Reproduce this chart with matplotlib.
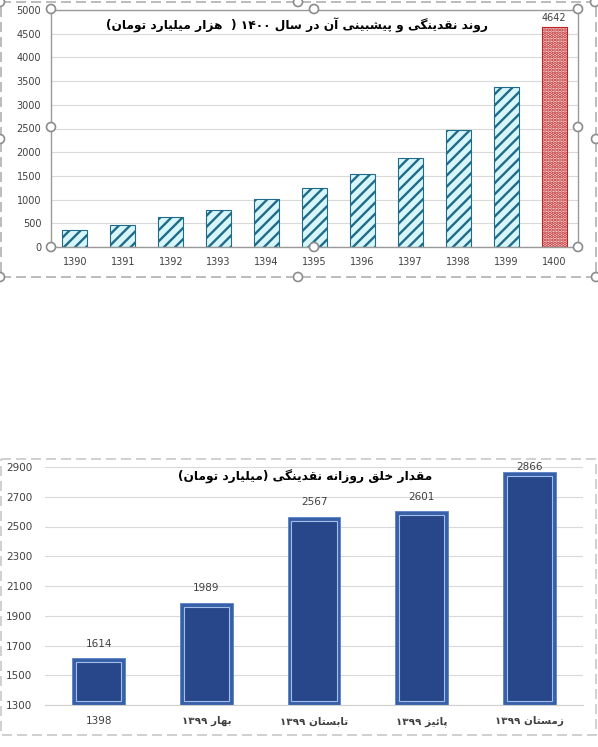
import re
import matplotlib
matplotlib.use('Agg')
import matplotlib.pyplot as plt
from matplotlib.patches import Circle, Rectangle
import numpy as np

# ---- data ----
years = ['1390', '1391', '1392', '1393', '1394', '1395', '1396', '1397', '1398', '1399', '1400']
liquidity = [365, 463, 632, 780, 1011, 1243, 1538, 1875, 2470, 3384, 4642]

seasons = ['1398', 'بهار ۱۳۹۹', 'تابستان ۱۳۹۹', 'پائیز ۱۳۹۹', 'زمستان ۱۳۹۹']
daily = [1614, 1989, 2567, 2601, 2866]

title_top = 'روند نقدینگی و پیشبینی آن در سال ۱۴۰۰ (  هزار میلیارد تومان)'
title_bottom = 'مقدار خلق روزانه نقدینگی (میلیارد تومان)'

# ---- crude arabic shaping (matplotlib has no complex text layout) ----
FORMS = {
    'ا': ('\uFE8D', '\uFE8E', None, None),
    'آ': ('\uFE81', '\uFE82', None, None),
    'ب': ('\uFE8F', '\uFE90', '\uFE91', '\uFE92'),
    'پ': ('\uFB56', '\uFB57', '\uFB58', '\uFB59'),
    'ت': ('\uFE95', '\uFE96', '\uFE97', '\uFE98'),
    'خ': ('\uFEA5', '\uFEA6', '\uFEA7', '\uFEA8'),
    'د': ('\uFEA9', '\uFEAA', None, None),
    'ر': ('\uFEAD', '\uFEAE', None, None),
    'ز': ('\uFEAF', '\uFEB0', None, None),
    'س': ('\uFEB1', '\uFEB2', '\uFEB3', '\uFEB4'),
    'ش': ('\uFEB5', '\uFEB6', '\uFEB7', '\uFEB8'),
    'ق': ('\uFED5', '\uFED6', '\uFED7', '\uFED8'),
    'ک': ('\uFB8E', '\uFB8F', '\uFB90', '\uFB91'),
    'گ': ('\uFB92', '\uFB93', '\uFB94', '\uFB95'),
    'ل': ('\uFEDD', '\uFEDE', '\uFEDF', '\uFEE0'),
    'م': ('\uFEE1', '\uFEE2', '\uFEE3', '\uFEE4'),
    'ن': ('\uFEE5', '\uFEE6', '\uFEE7', '\uFEE8'),
    'ه': ('\uFEE9', '\uFEEA', '\uFEEB', '\uFEEC'),
    'و': ('\uFEED', '\uFEEE', None, None),
    'ی': ('\uFBFC', '\uFBFD', '\uFBFE', '\uFBFF'),
    'ئ': ('\uFE89', '\uFE8A', '\uFE8B', '\uFE8C'),
}


def rtl(s):
    out = []
    for i, ch in enumerate(s):
        if ch not in FORMS:
            out.append(ch)
            continue
        f = FORMS[ch]
        prev = s[i - 1] if i > 0 else ''
        nxt = s[i + 1] if i + 1 < len(s) else ''
        jp = prev in FORMS and FORMS[prev][2] is not None
        jn = f[2] is not None and nxt in FORMS
        if jp and jn:
            out.append(f[3])
        elif jp:
            out.append(f[1])
        elif jn:
            out.append(f[2])
        else:
            out.append(f[0])
    mirror = {'(': ')', ')': '('}
    vis = ''.join(mirror.get(c, c) for c in reversed(out))
    return re.sub(r'[0-9\u06F0-\u06F9]+', lambda m: m.group(0)[::-1], vis)


plt.rcParams['font.family'] = ['DejaVu Sans']
plt.rcParams['hatch.linewidth'] = 1.7

fig = plt.figure(figsize=(5.98, 7.47), dpi=100)
W, H = 598, 747

grid_c = '#d9d9d9'
tick_c = '#404040'

# ---------------- top chart ----------------
ax1 = fig.add_axes([51 / W, 1 - 247 / H, 527 / W, 237 / H])
x1 = np.arange(len(years))
ax1.bar(x1[:-1], liquidity[:-1], width=0.52, color='#d8f6fa',
        edgecolor='#1f6c8a', hatch='///', linewidth=0.8, zorder=2)
ax1.bar(x1[-1:], liquidity[-1:], width=0.52, color='#fad6d6',
        edgecolor='#b82424', hatch='.....', linewidth=0.8, zorder=2)
ax1.set_xlim(-0.5, len(years) - 0.5)
ax1.set_ylim(0, 5000)
ax1.set_yticks(np.arange(0, 5001, 500))
ax1.set_xticks(x1)
ax1.set_xticklabels(years)
ax1.grid(axis='y', color=grid_c, linewidth=0.8, zorder=0)
ax1.tick_params(length=0, labelsize=7, labelcolor=tick_c)
ax1.tick_params(axis='y', pad=7)
ax1.tick_params(axis='x', pad=7)
for s in ax1.spines.values():
    s.set_color('#9a9a9a')
    s.set_linewidth(1.0)
ax1.annotate(str(liquidity[-1]), (x1[-1], liquidity[-1]), xytext=(0, 3),
             textcoords='offset points', ha='center', va='bottom',
             fontsize=7, color=tick_c)
ax1.text(0.467, 0.935, rtl(title_top), transform=ax1.transAxes, ha='center',
         va='center', fontsize=8.8, fontweight='bold', color='black')

# ---------------- bottom chart ----------------
ax2 = fig.add_axes([45 / W, 1 - 705 / H, 538 / W, 238 / H])
x2 = np.arange(len(seasons))
ax2.bar(x2, daily, width=0.49, bottom=0, color='#3760a8', edgecolor='#5a82c6',
        linewidth=0.6, zorder=2)
ax2.bar(x2, np.array(daily) - 1300 - 54, width=0.42, bottom=1327,
        color='#27478a', edgecolor='#a3bde8', linewidth=0.8, zorder=3)
ax2.set_xlim(-0.5, len(seasons) - 0.5)
ax2.set_ylim(1300, 2900)
ax2.set_yticks(np.arange(1300, 2901, 200))
ax2.set_xticks(x2)
ax2.set_xticklabels([rtl(s) for s in seasons])
for i, lab in enumerate(ax2.get_xticklabels()):
    if i > 0:
        lab.set_fontweight('bold')
        lab.set_color('black')
        lab.set_fontsize(8)
ax2.grid(axis='y', color=grid_c, linewidth=0.8, zorder=0)
ax2.tick_params(length=0, labelsize=7.5, labelcolor=tick_c)
ax2.tick_params(axis='y', pad=9)
ax2.tick_params(axis='x', pad=8)
for k in ['left', 'right', 'top']:
    ax2.spines[k].set_visible(False)
ax2.spines['bottom'].set_color('#d0d0d0')
# labels sit ~14px above the bar, but are kept inside the plot area
for xi, v in zip(x2, daily):
    ax2.text(xi, min(v + 95, 2900), str(v), ha='center', va='center',
             fontsize=7.5, color=tick_c)
ax2.text(0.483, 0.958, rtl(title_bottom), transform=ax2.transAxes, ha='center',
         va='center', fontsize=8.8, fontweight='bold', color='black')

# ---------------- selection frames / handles ----------------
ov = fig.add_axes([0, 0, 1, 1], zorder=10)
ov.set_xlim(0, W)
ov.set_ylim(H, 0)
ov.axis('off')
ov.patch.set_alpha(0)
ov.add_patch(Rectangle((1, 2), 595, 275, fill=False, edgecolor='#b0b0b0',
                       linewidth=1.2, linestyle=(0, (6, 3))))
ov.add_patch(Rectangle((1, 459), 595, 276, fill=False, edgecolor='#c8c8c8',
                       linewidth=1.2, linestyle=(0, (6, 3))))
handles = [(51, 9), (314, 9), (578, 9), (578, 127), (578, 247), (314, 247),
           (51, 247), (51, 127), (0, 2), (298, 2), (595, 2), (596, 139),
           (596, 277), (298, 277), (0, 277), (0, 139)]
for hx, hy in handles:
    ov.add_patch(Circle((hx, hy), 4.5, facecolor='white', edgecolor='#8c8c8c',
                        linewidth=1.2))

fig.savefig('out.png', dpi=100)
